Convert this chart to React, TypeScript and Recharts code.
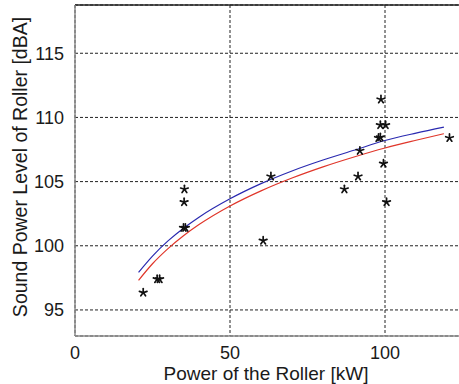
import React from "react";
import {
  ComposedChart,
  Line,
  Scatter,
  XAxis,
  YAxis,
  CartesianGrid,
  ReferenceLine,
} from "recharts";

// measured points (power kW, sound power level dBA)
const POWER_KW = [
  22.0, 26.5, 27.3, 35.0, 35.6, 35.2, 35.3, 60.7, 63.2, 86.9, 91.3, 91.9,
  97.9, 98.5, 98.7, 98.5, 100.2, 99.5, 100.5, 120.8,
];
const LEVEL_DBA = [
  96.35, 97.4, 97.4, 101.4, 101.4, 103.4, 104.4, 100.4, 105.4, 104.4, 105.4,
  107.4, 108.4, 108.45, 111.4, 109.4, 109.4, 106.4, 103.4, 108.4,
];

// fitted curves
const CURVE_X = [20.5, 25, 30, 35, 40, 50, 60, 70, 80, 90, 100, 110, 119];
const BLUE_FIT = [
  97.93, 99.2, 100.38, 101.37, 102.23, 103.66, 104.84, 105.83, 106.68, 107.44,
  108.2, 108.78, 109.25,
];
const RED_FIT = [
  97.31, 98.6, 99.78, 100.78, 101.65, 103.1, 104.28, 105.28, 106.15, 106.92,
  107.62, 108.22, 108.73,
];

const X_TICKS = [0, 50, 100];
const Y_TICKS = [95, 100, 105, 110, 115];

const Y_MIN = 92.97;
const Y_MAX = 118.76;

const FONT = "'Liberation Sans', Arial, sans-serif";

const curveData = CURVE_X.map((x, i) => ({ x, blue: BLUE_FIT[i], red: RED_FIT[i] }));
const pointData = POWER_KW.map((x, i) => ({ x, y: LEVEL_DBA[i] }));

function Asterisk(props: any) {
  const { cx, cy } = props;
  if (cx == null || cy == null) return null;
  const r = 4;
  const arms = [0, 1, 2, 3, 4].map((k) => {
    const a = ((-90 + k * 72) * Math.PI) / 180;
    return (
      <line
        key={k}
        x1={cx}
        y1={cy}
        x2={cx + r * Math.cos(a)}
        y2={cy + r * Math.sin(a)}
        stroke="#111"
        strokeWidth={1.7}
        strokeLinecap="round"
      />
    );
  });
  return <g>{arms}</g>;
}

export default function App() {
  return (
    <div
      style={{
        position: "absolute",
        left: 0,
        top: 0,
        width: 459,
        height: 384,
        overflow: "hidden",
        background: "white",
        fontFamily: FONT,
      }}
    >
      <ComposedChart
        width={470}
        height={384}
        data={curveData}
        margin={{ top: 5, right: 7.5, bottom: 0, left: 0 }}
      >
        <CartesianGrid stroke="#222" strokeDasharray="3 2" strokeWidth={1} />
        <XAxis
          dataKey="x"
          type="number"
          domain={[0, 125]}
          ticks={X_TICKS}
          allowDataOverflow
          height={48}
          tickLine={false}
          tickMargin={4}
          axisLine={{ stroke: "#8a8a8a", strokeWidth: 1.5 }}
          tick={{ fill: "#1a1a1a", fontSize: 18, fontFamily: FONT }}
          label={() => (
            <text
              x={266}
              y={380}
              textAnchor="middle"
              fontSize={19}
              fill="#1a1a1a"
              fontFamily={FONT}
            >
              Power of the Roller [kW]
            </text>
          )}
        />
        <YAxis
          type="number"
          domain={[Y_MIN, Y_MAX]}
          ticks={Y_TICKS}
          allowDataOverflow
          width={75}
          tickLine={false}
          tickMargin={5}
          axisLine={{ stroke: "#8a8a8a", strokeWidth: 1.5 }}
          tick={{ fill: "#1a1a1a", fontSize: 18, fontFamily: FONT }}
          label={() => (
            <text
              x={27}
              y={167}
              transform="rotate(-90, 27, 167)"
              textAnchor="middle"
              fontSize={19.5}
              fill="#1a1a1a"
              fontFamily={FONT}
            >
              Sound Power Level of Roller [dBA]
            </text>
          )}
        />
        <ReferenceLine y={Y_MAX} stroke="#222" strokeWidth={1.5} />
        <Line
          dataKey="blue"
          type="monotone"
          stroke="#2a2ab0"
          strokeWidth={1.2}
          dot={false}
          isAnimationActive={false}
        />
        <Line
          dataKey="red"
          type="monotone"
          stroke="#e0362a"
          strokeWidth={1.2}
          dot={false}
          isAnimationActive={false}
        />
        <Scatter
          data={pointData}
          dataKey="y"
          shape={<Asterisk />}
          isAnimationActive={false}
        />
      </ComposedChart>
    </div>
  );
}
